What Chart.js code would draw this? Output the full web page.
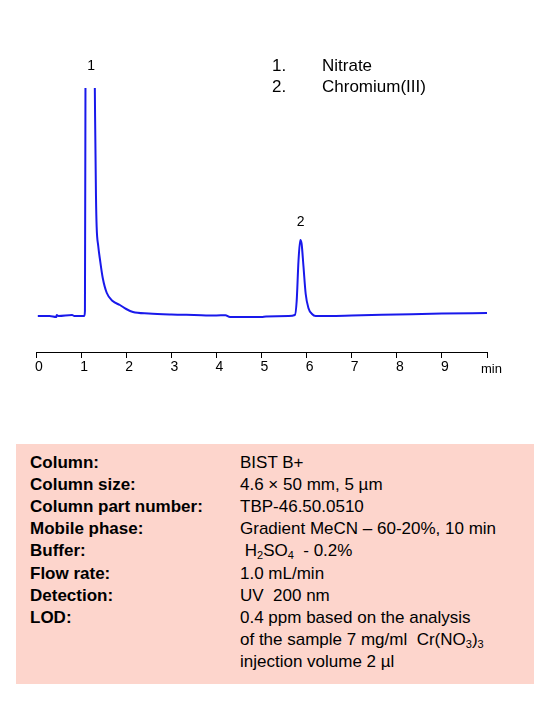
<!DOCTYPE html>
<html><head><meta charset="utf-8">
<script src="https://cdn.jsdelivr.net/npm/chart.js@4"></script>
<style>
body{margin:0;background:#fff;font-family:Arial,"Liberation Sans",sans-serif;}
#wrap{position:absolute;left:0;top:0;width:554px;height:400px;}
#box{position:absolute;left:16px;top:444px;width:518px;height:240px;background:#fdd5cc;}
.r{position:absolute;font-size:17px;color:#000;line-height:20px;white-space:nowrap;}
.k{left:14px;font-weight:bold;}
.v{left:224px;}
sub{font-size:11px;vertical-align:-3px;line-height:0;}
</style></head><body>
<div id="wrap"><canvas id="c" width="554" height="400"></canvas></div>
<div id="box"></div>
<script>
const times=[0.04,0.3,0.45,0.46,0.5,0.8,0.85,1.07,1.085,1.1,1.12,1.27,1.29,1.31,1.33,1.345,1.38,1.42,1.48,1.57,1.7,1.86,2.0,2.15,2.5,3,3.5,4,4.2,4.3,5,5.1,5.6,5.74,5.78,5.82,5.86,5.89,5.93,5.98,6.04,6.12,6.2,7,8,9,10];
const signal=[0,0,-1,1,0,1,0,0,5,300,400,400,300,200,120,89,70,56,38,23,15,11,7,4,2.5,1.5,1,0.5,0.8,-1,-1,-0.5,0,1,15,55,76,72,50,22,8,2,0,0.5,1.5,2.5,3];
const xTicks=[0,1,2,3,4,5,6,7,8,9];
const peakLabels=[{t:1.22,v:246,s:"1"},{t:5.87,v:90,s:"2"}];
const legendItems=["Nitrate","Chromium(III)"];
const infoKeys=["Column:","Column size:","Column part number:","Mobile phase:","Buffer:","Flow rate:","Detection:","LOD:"];
const infoVals=["BIST B+","4.6 × 50 mm, 5 µm","TBP-46.50.0510","Gradient MeCN – 60-20%, 10 min","&nbsp;H<sub>2</sub>SO<sub>4</sub>&nbsp; - 0.2%","1.0 mL/min","UV&nbsp; 200 nm","0.4 ppm based on the analysis","of the sample 7 mg/ml&nbsp; Cr(NO<sub>3</sub>)<sub>3</sub>","injection volume 2 µl"];

const box=document.getElementById('box');
infoKeys.forEach((k,i)=>{const d=document.createElement('div');d.className='r k';d.style.top=(9+i*22.1)+'px';d.textContent=k;box.appendChild(d);});
infoVals.forEach((v,i)=>{const d=document.createElement('div');d.className='r v';d.style.top=(9+i*22.1)+'px';d.innerHTML=v;box.appendChild(d);});

const textPlugin={id:'txt',afterDraw(ch){
 const c=ch.ctx,x=ch.scales.x,y=ch.scales.y;
 c.save();c.fillStyle='#000';c.font='14px Arial, "Liberation Sans"';c.textAlign='center';c.textBaseline='alphabetic';
 peakLabels.forEach(p=>c.fillText(p.s,x.getPixelForValue(p.t),y.getPixelForValue(p.v)));
 c.font='13px Arial, "Liberation Sans"';c.textAlign='left';
 c.fillText('min',x.getPixelForValue(10)-6,373);
 c.font='17px Arial, "Liberation Sans"';
 legendItems.forEach((s,i)=>{c.fillText((i+1)+'.',272,71+i*21);c.fillText(s,322,71+i*21);});
 c.restore();}};

new Chart(document.getElementById('c'),{type:'line',
 data:{datasets:[{data:times.map((t,i)=>({x:t,y:signal[i]})),borderColor:'rgb(25,25,235)',borderWidth:2,pointRadius:0,cubicInterpolationMode:'monotone',fill:false}]},
 options:{responsive:false,animation:false,events:[],
  layout:{padding:{left:36,right:67,top:88,bottom:0}},
  plugins:{legend:{display:false},tooltip:{enabled:false}},
  scales:{
   y:{display:false,min:-36,max:228},
   x:{type:'linear',min:0,max:10,afterFit(s){s.height=48;},
    afterBuildTicks(s){s.ticks=xTicks.concat([10]).map(v=>({value:v}));},
    border:{display:true,color:'#000',width:1},
    grid:{drawOnChartArea:false,drawTicks:true,tickLength:6,color:'#000'},
    ticks:{color:'#000',font:{size:14,family:'Arial, "Liberation Sans"'},padding:1,maxRotation:0,labelOffset:3,
      callback:v=>v===10?'':String(v)}}
  }},
 plugins:[textPlugin]});
</script></body></html>
